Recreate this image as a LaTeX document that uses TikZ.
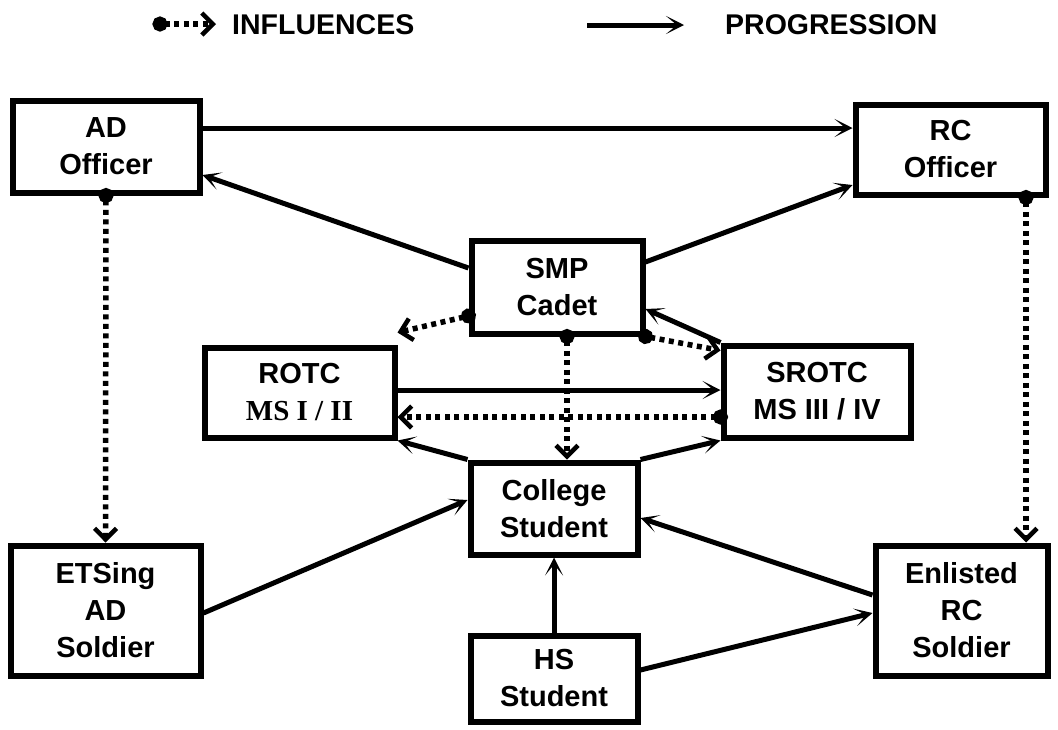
\documentclass[tikz,border=0pt]{standalone}
\usepackage{fontspec}
\setmainfont{Liberation Sans}
\newfontfamily\serifb{Liberation Serif}
\usetikzlibrary{arrows.meta,calc}
\tikzset{
  box/.style={draw, line width=6pt, inner sep=0pt, align=center,
    font=\bfseries\fontsize{29}{37}\selectfont},
  prog/.style={line width=5pt, -{Stealth[length=18pt,width=18pt,inset=11pt]}},
  infl/.style={line width=5.5pt, dash pattern=on 5pt off 4.5pt,
    {Circle[length=15pt]}-{Straight Barb[length=11pt,width=22pt,line width=4.5pt]},
    shorten <=-7.5pt},
  legend/.style={font=\bfseries\fontsize{28.5}{34}\selectfont, anchor=west, inner sep=0pt}
}
\begin{document}
\begin{tikzpicture}[x=1pt,y=-1pt]
\useasboundingbox (0,0) rectangle (1058,729);
% legend
\coordinate (la) at (160,24);
\coordinate (lb) at (216,24);
\node[legend] (linfl) at (232,25) {INFLUENCES};
\coordinate (lc) at (587,25);
\coordinate (ld) at (684,25);
\node[legend] (lprog) at (725,25) {PROGRESSION};
\draw[infl] (la) -- (lb);
\draw[prog] (lc) -- (ld);
% boxes
\node[box, minimum width=187pt, minimum height=92pt] (ad) at (106,146.5) {AD\\Officer};
\node[box, minimum width=190pt, minimum height=90pt] (rc) at (950.5,149.5) {RC\\Officer};
\node[box, minimum width=171pt, minimum height=93pt] (smp) at (557,287) {SMP\\Cadet};
\node[box, minimum width=190pt, minimum height=90pt] (rotc) at (299.5,392.5) {ROTC\\{\serifb\bfseries MS I / II}};
\node[box, minimum width=187pt, minimum height=92pt] (srotc) at (817,391.5) {SROTC\\MS III / IV};
\node[box, minimum width=167pt, minimum height=92pt] (col) at (554,508.5) {College\\Student};
\node[box, minimum width=167pt, minimum height=86pt] (hs) at (554,678.5) {HS\\Student};
\node[box, minimum width=190pt, minimum height=130pt] (ets) at (105.5,610.5) {ETSing\\AD\\Soldier};
\node[box, minimum width=172pt, minimum height=130pt] (enl) at (961.5,610.5) {Enlisted\\RC\\Soldier};
% named free ends
\coordinate (t4) at ([yshift=12pt]rotc.north east);
\coordinate (t5) at ([yshift=-8pt]srotc.north west);
% progression
\draw[prog] (ad.east |- 0,128) -- (rc.west |- 0,128);
\draw[prog] (smp.west |- 0,268) -- (ad.east |- 0,175);
\draw[prog] (smp.east |- 0,262) -- (rc.west |- 0,185);
\draw[prog] (srotc.north west) -- (smp.east |- 0,309);
\draw[prog] (rotc.east |- 0,390) -- (srotc.west |- 0,390);
\draw[prog] (col.north west) -- (rotc.south east);
\draw[prog] (col.north east) -- (srotc.south west);
\draw[prog] (ets.east |- 0,613) -- (col.west |- 0,500);
\draw[prog] (hs.north) -- (col.south);
\draw[prog] (enl.west |- 0,595) -- (col.east |- 0,518);
\draw[prog] (hs.east |- 0,670) -- (enl.west |- 0,613);
% influences
\draw[infl] (smp.west |- 0,316) -- (t4);
\draw[infl] (smp.south east) -- (t5);
\draw[infl] (smp.south -| 567,0) -- (col.north -| 567,0);
\draw[infl] (srotc.west |- 0,417) -- (rotc.east |- 0,417);
\draw[infl] (ad.south) -- (ets.north);
\draw[infl] (rc.south -| 1026,0) -- (enl.north -| 1026,0);
\end{tikzpicture}
\end{document}
